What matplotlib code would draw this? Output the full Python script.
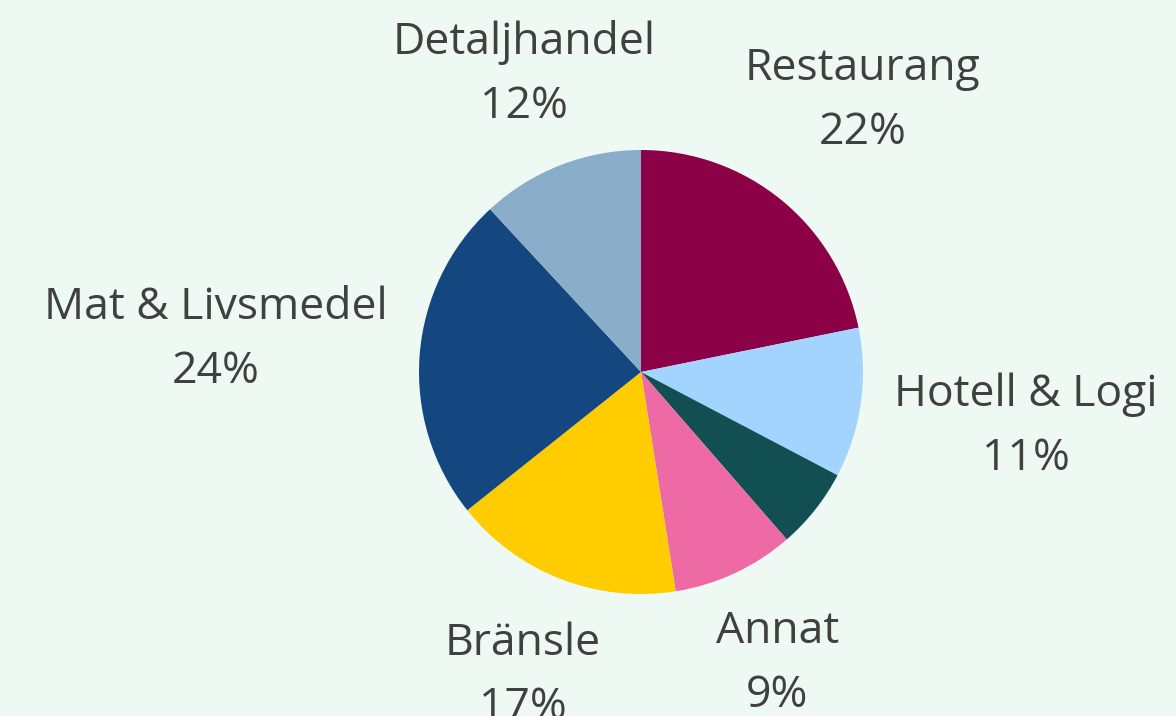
import numpy as np
import matplotlib.pyplot as plt

plt.rcParams['font.family'] = ['Open Sans', 'DejaVu Sans']

categories = ['Restaurang', 'Hotell & Logi', '', 'Annat', 'Bränsle', 'Mat & Livsmedel', 'Detaljhandel']
shares = [21.8, 10.9, 5.9, 8.9, 16.8, 23.8, 11.9]
pct_labels = ['22%', '11%', '', '9%', '17%', '24%', '12%']
colors = ['#8B0046', '#A3D3FF', '#124F52', '#EE6AA5', '#FFCC00', '#14477F', '#8AAEC9']
label_dist = [1.58, 1.75, 1.4, 1.45, 1.47, 1.92, 1.44]

W, H = 1176, 716
cx, cy, r = 641, 344, 222  # pixel centre (from bottom) and radius

fig = plt.figure(figsize=(W / 100, H / 100), dpi=100)
fig.patch.set_facecolor('#EEF9F4')
ax = fig.add_axes([0, 0, 1, 1])
ax.set_facecolor('#EEF9F4')

wedges, _ = ax.pie(shares, colors=colors, startangle=90, counterclock=False,
                   radius=1, wedgeprops=dict(linewidth=0))

for w, name, pct, d in zip(wedges, categories, pct_labels, label_dist):
    if not name:
        continue
    mid = np.deg2rad((w.theta1 + w.theta2) / 2)
    ax.text(d * np.cos(mid), d * np.sin(mid), name + '\n' + pct,
            ha='center', va='center', fontsize=32, color='#404040',
            linespacing=1.58)

ax.set_xlim(-cx / r, (W - cx) / r)
ax.set_ylim(-cy / r, (H - cy) / r)
ax.set_aspect('equal')
ax.axis('off')

fig.savefig('out.png', dpi=100, facecolor=fig.get_facecolor())
